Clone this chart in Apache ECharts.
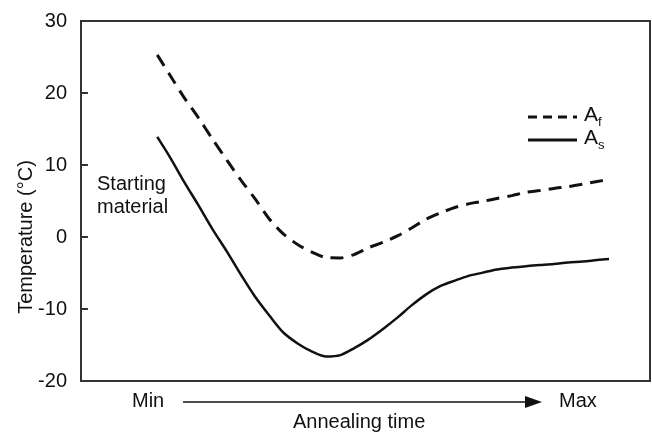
<!DOCTYPE html>
<html>
<head>
<meta charset="utf-8">
<script src="https://cdn.jsdelivr.net/npm/echarts@6/dist/echarts.min.js"></script>
<style>html,body{margin:0;padding:0;background:#fff}#c{width:652px;height:435px}</style>
</head>
<body>
<div id="c"></div>
<script>
// Annealing time (arbitrary units, 0 = Min, 100 = Max)
var time = [13.4, 15.7, 18.1, 20.6, 23.1, 25.7, 28.2, 30.6, 33.1, 35.6, 38.2, 40.7, 43.1, 45.6, 48.1, 50.5,
            53.2, 55.6, 58.1, 60.6, 63.2, 65.7, 68.1, 70.6, 73.1, 75.7, 78.2, 80.6, 83.1, 85.6, 88.2, 90.7, 92.8];
// A_f (dashed)
var afTemp = [25.3, 22.4, 19.4, 16.6, 13.6, 10.6, 7.8, 5.3, 2.5, 0.4, -1.1, -2.15, -2.85, -2.9, -2.4, -1.5,
              -0.7, 0.15, 1.25, 2.45, 3.35, 4.1, 4.6, 4.95, 5.35, 5.75, 6.2, 6.45, 6.75, 7.0, 7.35, 7.7, 8.0];
// A_s (solid)
var asTemp = [13.9, 11.0, 7.7, 4.45, 1.1, -2.1, -5.35, -8.3, -10.9, -13.3, -14.85, -15.95, -16.6, -16.4, -15.4, -14.25,
              -12.7, -11.2, -9.5, -8.0, -6.8, -6.05, -5.4, -4.95, -4.5, -4.25, -4.05, -3.9, -3.75, -3.55, -3.4, -3.2, -3.05];
var yTicks = [-20, -10, 0, 10, 20, 30];

function zip(a, b) { return a.map(function (v, i) { return [v, b[i]]; }); }

var font = 'Liberation Sans, Arial, sans-serif';
var fs = 20;
var chart = echarts.init(document.getElementById('c'), null, {renderer: 'canvas'});
chart.setOption({
  animation: false,
  backgroundColor: '#fff',
  grid: {left: 81, right: 2, top: 21, bottom: 54, show: true, borderColor: '#333', borderWidth: 2, backgroundColor: 'transparent'},
  xAxis: {type: 'value', min: 0, max: 100, axisLine: {show: false}, axisTick: {show: false}, axisLabel: {show: false}, splitLine: {show: false}},
  yAxis: {
    type: 'value', min: yTicks[0], max: yTicks[yTicks.length - 1], interval: 10,
    axisLine: {show: true, lineStyle: {color: '#333', width: 2}},
    axisTick: {show: true, inside: true, length: 7, lineStyle: {color: '#333', width: 2}},
    axisLabel: {fontFamily: font, fontSize: fs, color: '#111', margin: 14},
    splitLine: {show: false}
  },
  series: [
    {name: 'Af', type: 'line', data: zip(time, afTemp), smooth: 0.3, showSymbol: false,
     lineStyle: {color: '#111', width: 3, type: [13, 8]}},
    {name: 'As', type: 'line', data: zip(time, asTemp), smooth: 0.3, showSymbol: false,
     lineStyle: {color: '#111', width: 2.5, type: 'solid'}}
  ],
  graphic: [
    {type: 'text', x: 26, y: 237, rotation: Math.PI / 2, style: {text: 'Temperature (°C)', font: fs + 'px ' + font, fill: '#111', align: 'center', verticalAlign: 'middle'}},
    {type: 'text', left: 97, top: 173, style: {text: 'Starting\nmaterial', font: fs + 'px ' + font, fill: '#111', lineHeight: 23}},
    {type: 'line', shape: {x1: 528, y1: 117, x2: 577, y2: 117}, style: {stroke: '#111', lineWidth: 3, lineDash: [9, 6]}},
    {type: 'line', shape: {x1: 528, y1: 140, x2: 577, y2: 140}, style: {stroke: '#111', lineWidth: 3}},
    {type: 'text', left: 584, top: 105, style: {text: '{a|A}{s|f}', rich: {a: {font: '21px ' + font, fill: '#111'}, s: {font: '13px ' + font, fill: '#111', padding: [13, 0, 0, 0]}}}},
    {type: 'text', left: 584, top: 128, style: {text: '{a|A}{s|s}', rich: {a: {font: '21px ' + font, fill: '#111'}, s: {font: '13px ' + font, fill: '#111', padding: [13, 0, 0, 0]}}}},
    {type: 'text', left: 132, top: 391, style: {text: 'Min', font: fs + 'px ' + font, fill: '#111'}},
    {type: 'text', left: 559, top: 391, style: {text: 'Max', font: fs + 'px ' + font, fill: '#111'}},
    {type: 'line', shape: {x1: 183, y1: 402, x2: 528, y2: 402}, style: {stroke: '#111', lineWidth: 1.5}},
    {type: 'polygon', shape: {points: [[525, 396], [542, 402], [525, 408]]}, style: {fill: '#111'}},
    {type: 'text', left: 293, top: 412, style: {text: 'Annealing time', font: fs + 'px ' + font, fill: '#111'}}
  ]
});
</script>
</body>
</html>
